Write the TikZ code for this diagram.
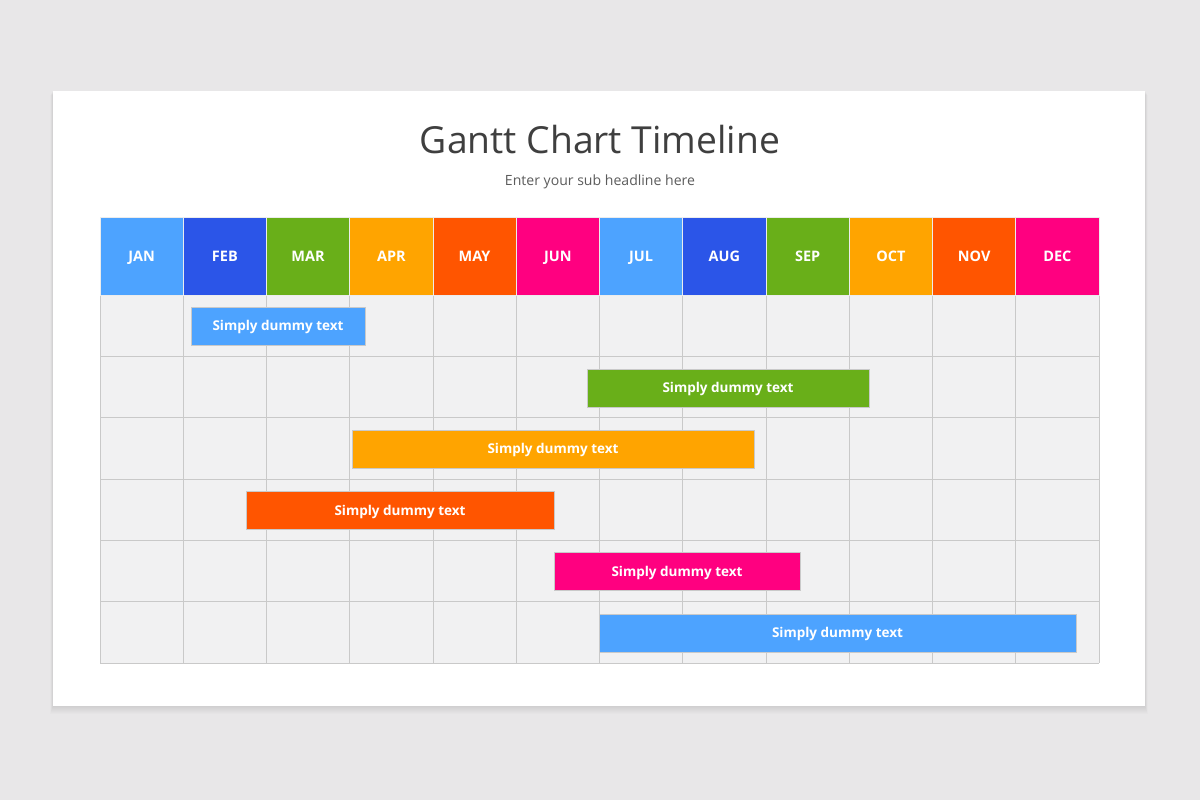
\documentclass[tikz,border=0pt]{standalone}
\usepackage{fontspec}
\setmainfont{Open Sans}
\usetikzlibrary{positioning, calc}

\definecolor{pagegray}{HTML}{E8E7E8}
\definecolor{cellgray}{HTML}{F1F1F2}
\definecolor{linegray}{HTML}{C9C9C9}
\definecolor{titlegray}{HTML}{3F3F3F}
\definecolor{cblue}{HTML}{4DA3FF}
\definecolor{cnavy}{HTML}{2B55E8}
\definecolor{cgreen}{HTML}{69AF19}
\definecolor{corange}{HTML}{FFA400}
\definecolor{cred}{HTML}{FF5500}
\definecolor{cpink}{HTML}{FF0080}

\begin{document}
\begin{tikzpicture}[
  x=0.025cm, y=-0.025cm,
  month/.style={
    draw=white!85!gray,
    line width=0.5pt,
    minimum width=2.08cm,
    minimum height=1.95cm,
    inner sep=0pt,
    text height=7.4pt, text depth=0pt,
    text=white,
    font=\fontsize{10.3}{12}\selectfont\bfseries
  },
  bar/.style={
    draw=linegray,
    line width=0.5pt,
    minimum height=0.95cm,
    inner sep=0pt,
    text height=6.8pt, text depth=0pt,
    text=white,
    font=\fontsize{9.6}{11}\selectfont\bfseries
  },
  gridline/.style={linegray, line width=0.6pt}
]

% Page and card
\fill[pagegray] (0,0) rectangle (1200,800);
\useasboundingbox (0,0) rectangle (1200,800);
\foreach \s in {1,...,8}
  \fill[black, opacity=0.012] (53-\s/3,91+\s/2) rectangle (1145+\s/3,706+\s);
\fill[white] (53,91) rectangle (1145,706);

% Title
\node[text=titlegray, font=\fontsize{26.5}{32}\selectfont] (title) at (600,140) {Gantt Chart Timeline};
\node[text=titlegray!85, font=\fontsize{10}{12}\selectfont] (sub) at (600,182) {Enter your sub headline here};

% Body cells
\fill[cellgray] (100,295) rectangle (1099,663);
\foreach \i in {0,...,12}
  \draw[gridline] ({100+83.25*\i},295) -- ({100+83.25*\i},663);
\foreach \j in {0,...,6}
  \draw[gridline] (100,{295+61.33*\j}) -- (1099,{295+61.33*\j});

% Header row
\foreach \m/\c [count=\i from 0] in {JAN/cblue, FEB/cnavy, MAR/cgreen, APR/corange, MAY/cred, JUN/cpink,
    JUL/cblue, AUG/cnavy, SEP/cgreen, OCT/corange, NOV/cred, DEC/cpink}
  \node[month, fill=\c] (m\i) at ({141.6+83.25*\i},256) {\m};

% Bars
\node[bar, fill=cblue, minimum width=4.35cm] (bar1) at (278,326) {Simply dummy text};
\node[bar, fill=cgreen, minimum width=7.05cm] (bar2) at (728,388) {Simply dummy text};
\node[bar, fill=corange, minimum width=10.05cm] (bar3) at (553,449) {Simply dummy text};
\node[bar, fill=cred, minimum width=7.7cm] (bar4) at (400,510.5) {Simply dummy text};
\node[bar, fill=cpink, minimum width=6.15cm] (bar5) at (677,571.5) {Simply dummy text};
\node[bar, fill=cblue, minimum width=11.925cm] (bar6) at (837.5,633) {Simply dummy text};

\end{tikzpicture}
\end{document}
